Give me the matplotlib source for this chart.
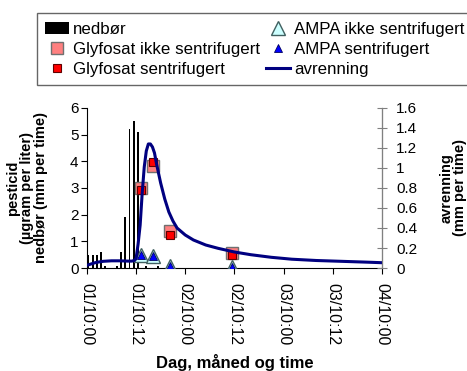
import numpy as np
import matplotlib
matplotlib.use('Agg')
import matplotlib.pyplot as plt
from matplotlib.ticker import FormatStrFormatter

plt.rcParams['font.family'] = ['Liberation Sans', 'DejaVu Sans']

# nedbør (mm per time), timer fra start
nedbor_t = [0.4, 1.4, 2.4, 3.4, 4.4, 7.4, 8.4, 9.4, 10.4, 11.4, 12.4, 14.4, 17.4]
nedbor = [0.5, 0.5, 0.5, 0.6, 0.08, 0.08, 0.6, 1.9, 5.2, 5.5, 5.1, 0.08, 0.06]

# prøvetidspunkt (timer)
prove_t = [13.3, 16.2, 20.4, 35.5]
glyf_ikke = [3.0, 3.82, 1.4, 0.56]
glyf_sent = [2.92, 3.99, 1.22, 0.5]
ampa_ikke = [0.5, 0.45, 0.08, 0.05]
ampa_sent = [0.5, 0.45, 0.08, 0.05]

# avrenning (mm per time)
avr_t = [0, 1, 2, 3, 4, 6, 8, 10, 11, 11.5, 12, 12.5, 13, 13.5, 14, 14.5, 15, 15.5,
         16, 16.5, 17, 18, 19, 20, 21, 22, 24, 26, 29, 32, 36, 40, 45, 50, 56, 62, 68, 72]
avr = [0.027, 0.04, 0.053, 0.061, 0.067, 0.072, 0.072, 0.069, 0.069, 0.075, 0.093,
       0.24, 0.43, 0.75, 1.01, 1.17, 1.24, 1.24, 1.21, 1.15, 1.04, 0.85, 0.69, 0.56,
       0.47, 0.4, 0.33, 0.28, 0.23, 0.197, 0.16, 0.133, 0.107, 0.088, 0.075, 0.067,
       0.059, 0.053]

xticks = [0, 12, 24, 36, 48, 60, 72]
xlabels = ['01/10:00', '01/10:12', '02/10:00', '02/10:12', '03/10:00', '03/10:12', '04/10:00']

fig = plt.figure(figsize=(4.67, 3.71), dpi=100)
ax = fig.add_axes([0.186, 0.2776, 0.632, 0.4314])
ax2 = ax.twinx()

b = ax.bar(nedbor_t, nedbor, width=0.45, color='black', label='nedbør', zorder=2)
g1, = ax.plot(prove_t, glyf_ikke, 's', ms=8.5, mfc='#FF8080', mec='#707070', mew=1,
              label='Glyfosat ikke sentrifugert', zorder=3)
g2, = ax.plot(prove_t, glyf_sent, 's', ms=5.5, mfc='#FF0000', mec='#600000', mew=0.8,
              label='Glyfosat sentrifugert', zorder=4)
a1, = ax.plot(prove_t, ampa_ikke, '^', ms=10, mfc='#CCFFFF', mec='#406060', mew=1,
              label='AMPA ikke sentrifugert', zorder=3)
a2, = ax.plot(prove_t, ampa_sent, '^', ms=5.5, mfc='#0000FF', mec='#000060', mew=0.6,
              label='AMPA sentrifugert', zorder=4)
l, = ax2.plot(avr_t, avr, color='#000080', lw=2.2, label='avrenning')

ax.set_xlim(0, 72)
ax.set_ylim(0, 6)
ax2.set_ylim(0, 1.6)
ax.set_xticks(xticks)
ax.set_xticklabels(xlabels, rotation=-90, fontsize=11.5)
ax.set_yticks(range(7))
ax.tick_params(axis='y', labelsize=11, direction='out', length=4, pad=2)
ax.tick_params(axis='x', direction='out', length=4, pad=7)
ax2.set_yticks(np.arange(0, 1.61, 0.2))
ax2.yaxis.set_major_formatter(FormatStrFormatter('%g'))
ax2.tick_params(axis='y', labelsize=11, direction='inout', length=7, color='#808080', pad=6.5)

ax.spines['top'].set_visible(False)
ax2.spines['top'].set_visible(False)
ax2.spines['right'].set_color('#808080')
ax2.spines['left'].set_visible(False)
ax2.spines['bottom'].set_visible(False)

ax.set_ylabel('pesticid\n(µgram per liter)\nnedbør (mm per time)', fontsize=10.5,
              fontweight='bold', linespacing=1.0, labelpad=16)
ax2.set_ylabel('avrenning\n(mm per time)', fontsize=10.5, fontweight='bold',
               linespacing=1.0, labelpad=16)
ax.set_xlabel('Dag, måned og time', fontsize=12, fontweight='bold', labelpad=6)

handles = [b, g1, g2, a1, a2, l]
labels = [h.get_label() for h in handles]
leg = fig.legend(handles, labels,
                 loc='upper left', bbox_to_anchor=(0.0786, 0.964), ncol=2,
                 fontsize=12.2, frameon=True, fancybox=False, borderaxespad=0,
                 handlelength=1.4, handletextpad=0.25, columnspacing=0.35,
                 labelspacing=0.3, borderpad=0.5)
leg.get_frame().set_edgecolor('#404040')
leg.get_frame().set_linewidth(1)

fig.savefig('out.png', dpi=100)
